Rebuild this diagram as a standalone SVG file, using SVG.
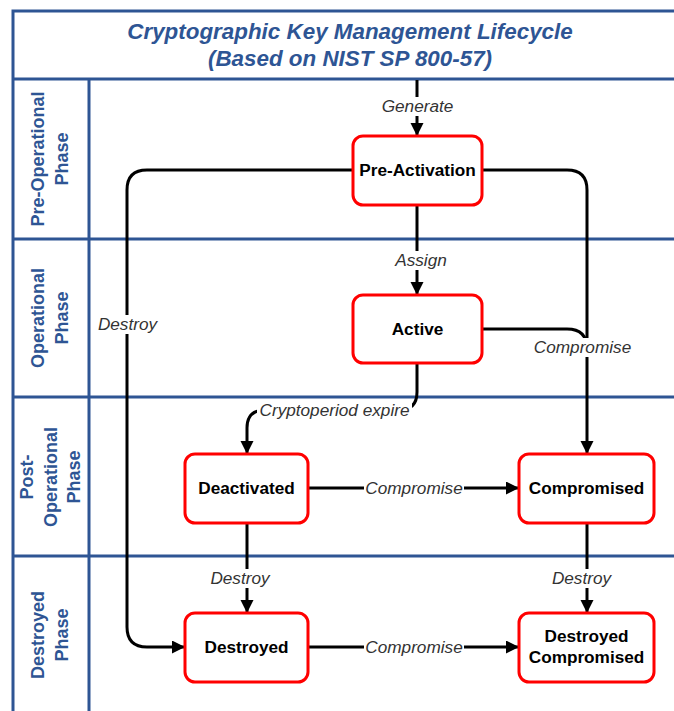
<svg xmlns="http://www.w3.org/2000/svg" width="674" height="711" viewBox="0 0 674 711">
<style>
.frame{stroke:#2E5594;stroke-width:3;fill:none}
.title{font-family:"Liberation Sans",Arial,sans-serif;font-weight:bold;font-style:italic;font-size:22.4px;fill:#2E5594;text-anchor:middle}
.lane{font-family:"Liberation Sans",Arial,sans-serif;font-weight:bold;font-size:18px;fill:#2E5594;text-anchor:middle}
.node rect{fill:#fff;stroke:#FF0000;stroke-width:3}
.node text{font-family:"Liberation Sans",Arial,sans-serif;font-weight:bold;font-size:17.2px;fill:#000;text-anchor:middle}
.edge{stroke:#000;stroke-width:3;fill:none}
.lbg{fill:#fff}
.lbl{font-family:"Liberation Sans",Arial,sans-serif;font-style:italic;font-size:17.2px;fill:#333;text-anchor:middle}
</style>
<defs>
<marker id="arr" markerUnits="userSpaceOnUse" markerWidth="14" markerHeight="14" refX="13" refY="6.5" orient="auto">
<path d="M0,0 L13,6.5 L0,13 z" fill="#000"/>
</marker>
</defs>
<rect width="674" height="711" fill="#fff"/>
<g id="frame">
<path class="frame" d="M13,720 V11 H680"/>
<path class="frame" d="M13,79 H680 M13,239 H680 M13,397 H680 M13,556 H680 M89,79 V720"/>
<text class="title" x="350" y="39">Cryptographic Key Management Lifecycle</text>
<text class="title" x="350" y="66">(Based on NIST SP 800-57)</text>
</g>
<g id="lanes">
<text class="lane" transform="translate(44,159) rotate(-90)">Pre-Operational</text>
<text class="lane" transform="translate(68,159) rotate(-90)">Phase</text>
<text class="lane" transform="translate(44,318) rotate(-90)">Operational</text>
<text class="lane" transform="translate(68,318) rotate(-90)">Phase</text>
<text class="lane" transform="translate(33,477) rotate(-90)">Post-</text>
<text class="lane" transform="translate(56.5,477) rotate(-90)">Operational</text>
<text class="lane" transform="translate(80,477) rotate(-90)">Phase</text>
<text class="lane" transform="translate(44,635) rotate(-90)">Destroyed</text>
<text class="lane" transform="translate(68,635) rotate(-90)">Phase</text>
</g>
<g id="connectors">
<path class="edge" d="M417,80 V136" marker-end="url(#arr)"/>
<path class="edge" d="M417,205 V295" marker-end="url(#arr)"/>
<path class="edge" d="M353,170 H147 Q127,170 127,190 V627 Q127,647 147,647 H185" marker-end="url(#arr)"/>
<path class="edge" d="M482,170 H567 Q587,170 587,190 V454" marker-end="url(#arr)"/>
<path class="edge" d="M482,329 H567 Q587,329 587,349"/>
<path class="edge" d="M417,363 V392 Q417,410 399,410 H265 Q247,410 247,428 V454" marker-end="url(#arr)"/>
<path class="edge" d="M308,488 H519" marker-end="url(#arr)"/>
<path class="edge" d="M247,523 V613" marker-end="url(#arr)"/>
<path class="edge" d="M587,523 V613" marker-end="url(#arr)"/>
<path class="edge" d="M308,647 H519" marker-end="url(#arr)"/>
<rect class="lbg" x="380" y="97" width="75" height="19"/>
<text class="lbl" x="417.5" y="112">Generate</text>
<rect class="lbg" x="394" y="251" width="56" height="19"/>
<text class="lbl" x="421" y="266">Assign</text>
<rect class="lbg" x="96" y="315" width="64" height="19"/>
<text class="lbl" x="127.5" y="330">Destroy</text>
<rect class="lbg" x="531" y="338" width="103" height="19"/>
<text class="lbl" x="582.5" y="353">Compromise</text>
<rect class="lbg" x="257" y="400" width="155" height="20"/>
<text class="lbl" x="334.5" y="416">Cryptoperiod expire</text>
<rect class="lbg" x="364" y="479" width="100" height="19"/>
<text class="lbl" x="414" y="494">Compromise</text>
<rect class="lbg" x="208" y="569" width="64" height="19"/>
<text class="lbl" x="240" y="584">Destroy</text>
<rect class="lbg" x="549" y="569" width="65" height="19"/>
<text class="lbl" x="581.5" y="584">Destroy</text>
<rect class="lbg" x="364" y="638" width="100" height="19"/>
<text class="lbl" x="414" y="653">Compromise</text>
</g>
<g id="pre-activation" class="node">
<rect x="353" y="136" width="129" height="69" rx="10"/>
<text x="417.5" y="176">Pre-Activation</text>
</g>
<g id="active" class="node">
<rect x="353" y="295" width="129" height="68" rx="10"/>
<text x="417.5" y="335">Active</text>
</g>
<g id="deactivated" class="node">
<rect x="185" y="454" width="123" height="69" rx="10"/>
<text x="246.5" y="494">Deactivated</text>
</g>
<g id="compromised" class="node">
<rect x="519" y="454" width="135" height="69" rx="10"/>
<text x="586.5" y="494">Compromised</text>
</g>
<g id="destroyed" class="node">
<rect x="185" y="613" width="123" height="69" rx="10"/>
<text x="246.5" y="653">Destroyed</text>
</g>
<g id="destroyed-compromised" class="node">
<rect x="519" y="613" width="135" height="69" rx="10"/>
<text x="586.5" y="642">Destroyed</text>
<text x="586.5" y="663">Compromised</text>
</g>
</svg>
